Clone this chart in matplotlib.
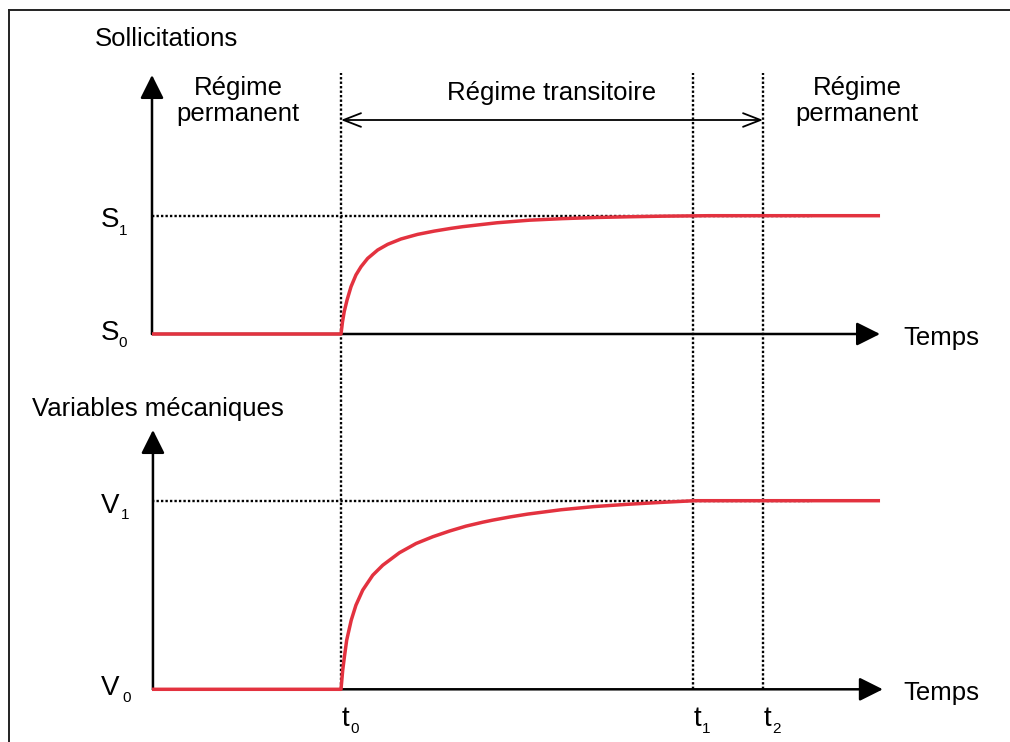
import matplotlib
matplotlib.use("Agg")
import matplotlib.pyplot as plt
from matplotlib.lines import Line2D

plt.rcParams["font.family"] = ["Liberation Sans", "DejaVu Sans"]

# ---------------- data (arbitrary time unit: t0 = 1) ----------------
t_marks = [1.0, 2.862, 3.233]          # t0, t1, t2
t_names = ["0", "1", "2"]
t_end = 3.852                          # end of the time axis

sollicitation_t = [0.0, 1.0, 1.008, 1.017, 1.032, 1.053, 1.079, 1.106, 1.141,
                   1.194, 1.247, 1.317, 1.405, 1.494, 1.582, 1.643, 1.824,
                   1.996, 2.170, 2.349, 2.525, 2.700, 2.949, 3.852]
sollicitation_v = [0.0, 0.0, 0.104, 0.189, 0.287, 0.400, 0.499, 0.569, 0.639,
                   0.710, 0.758, 0.803, 0.842, 0.870, 0.893, 0.907, 0.940,
                   0.962, 0.975, 0.985, 0.991, 0.996, 1.0, 1.0]

variable_t = [0.0, 1.0, 1.009, 1.018, 1.030, 1.054, 1.079, 1.115, 1.168, 1.221,
              1.309, 1.397, 1.486, 1.574, 1.661, 1.750, 1.803, 1.895, 1.988,
              2.164, 2.341, 2.517, 2.693, 2.870, 3.852]
variable_v = [0.0, 0.0, 0.101, 0.172, 0.260, 0.366, 0.446, 0.526, 0.605, 0.658,
              0.724, 0.773, 0.809, 0.839, 0.865, 0.886, 0.897, 0.914, 0.929,
              0.952, 0.969, 0.981, 0.991, 1.0, 1.0]

guide_end = 3.49
RED = "#e3323f"
FS = 18.5
FS_LETTER = 20
FS_SUB = 11

W, H = 1010, 742
fig = plt.figure(figsize=(W / 100, H / 100), dpi=100)
fig.patch.set_facecolor("white")

# frame (top and left edges)
fig.add_artist(Line2D([9 / W, 1], [1 - 10 / H, 1 - 10 / H], color="#222222", lw=1.4))
fig.add_artist(Line2D([9 / W, 9 / W], [0, 1 - 10 / H], color="#222222", lw=1.4))

xlim = (-152 / 189, (W - 152) / 189)
ax1 = fig.add_axes([0, 1 - 380 / H, 1, 380 / H])
ax1.set_xlim(*xlim)
ax1.set_ylim((334 - 380) / 118.3, 334 / 118.3)
ax2 = fig.add_axes([0, 0, 1, (H - 380) / H])
ax2.set_xlim(*xlim)
ax2.set_ylim((689.3 - H) / 188.6, (689.3 - 380) / 188.6)
for ax in (ax1, ax2):
    ax.axis("off")
    ax.patch.set_alpha(0)

dot = dict(color="black", lw=1.7, linestyle=(0, (1, 0.9)), clip_on=False)
ax_arrow = dict(arrowstyle="-|>,head_length=1.0,head_width=0.5", mutation_scale=14.4,
                lw=1.8, color="black", shrinkA=0, shrinkB=0)


def sub_label(ax, x, y, main, sub, dx, dy=-7, ha="left"):
    ax.annotate(main, xy=(x, y), xytext=(0, 0), textcoords="offset pixels",
                fontsize=FS_LETTER, ha=ha, va="baseline", annotation_clip=False)
    ax.annotate(sub, xy=(x, y), xytext=(dx, dy), textcoords="offset pixels",
                fontsize=FS_SUB, ha="left", va="baseline", annotation_clip=False)


# ---------------- top panel : Sollicitations ----------------
y_top1 = ax1.get_ylim()[0]
for t in t_marks:
    ax1.plot([t, t], [y_top1, (334 - 73) / 118.3], **dot)
ax1.plot([0, guide_end], [1, 1], **dot)
ax1.annotate("", xy=(0, (334 - 75) / 118.3), xytext=(0, 0), arrowprops=ax_arrow)
ax1.annotate("", xy=(t_end, 0), xytext=(0, 0), arrowprops=ax_arrow)
ax1.plot(sollicitation_t, sollicitation_v, color=RED, lw=2.5, zorder=5,
         solid_joinstyle="round", solid_capstyle="butt", clip_on=False)

ax1.annotate("", xy=(t_marks[0], (334 - 120) / 118.3), xytext=(t_marks[2], (334 - 120) / 118.3),
             arrowprops=dict(arrowstyle="<->,head_length=0.9,head_width=0.35", mutation_scale=14,
                             lw=1.3, color="black", shrinkA=0, shrinkB=0))
ax1.text((t_marks[0] + t_marks[2]) / 2, (334 - 100) / 118.3, "Régime transitoire",
         fontsize=FS, ha="center", va="baseline")
ax1.text((238 - 152) / 189, (334 - 101) / 118.3, "Régime\npermanent",
         fontsize=FS, ha="center", va="center", linespacing=1.12)
ax1.text((857 - 152) / 189, (334 - 101) / 118.3, "Régime\npermanent",
         fontsize=FS, ha="center", va="center", linespacing=1.12)
ax1.text((95 - 152) / 189, (334 - 45.7) / 118.3, "Sollicitations",
         fontsize=FS, ha="left", va="baseline")
ax1.text((903 - 152) / 189, (334 - 345) / 118.3, "Temps",
         fontsize=FS, ha="left", va="baseline")
sub_label(ax1, (101 - 152) / 189, (334 - 227) / 118.3, "S", "1", 18, -8)
sub_label(ax1, (101 - 152) / 189, (334 - 340) / 118.3, "S", "0", 17, -7)

# ---------------- bottom panel : Variables mécaniques ----------------
y_top2 = ax2.get_ylim()[1]
for t in t_marks:
    ax2.plot([t, t], [0, y_top2], **dot)
ax2.plot([0, guide_end], [1, 1], **dot)
ax2.annotate("", xy=(0.005, (689.3 - 430) / 188.6), xytext=(0.005, 0), arrowprops=ax_arrow)
ax2.annotate("", xy=(t_end + 0.015, 0), xytext=(0.005, 0), arrowprops=ax_arrow)
ax2.plot(variable_t, variable_v, color=RED, lw=2.5, zorder=5,
         solid_joinstyle="round", solid_capstyle="butt", clip_on=False)

ax2.text((32 - 152) / 189, (689.3 - 416) / 188.6, "Variables mécaniques",
         fontsize=FS, ha="left", va="baseline")
ax2.text((903 - 152) / 189, (689.3 - 700) / 188.6, "Temps",
         fontsize=FS, ha="left", va="baseline")
sub_label(ax2, (101 - 152) / 189, (689.3 - 513) / 188.6, "V", "1", 20, -6)
sub_label(ax2, (101 - 152) / 189, (689.3 - 695) / 188.6, "V", "0", 21, -7)

for t, n in zip(t_marks, t_names):
    ax2.annotate("t", xy=(t, (689.3 - 726) / 188.6), xytext=(1, 0), textcoords="offset pixels",
                 fontsize=FS_LETTER, ha="left", va="baseline", annotation_clip=False)
    ax2.annotate(n, xy=(t, (689.3 - 726) / 188.6), xytext=(9, -7), textcoords="offset pixels",
                 fontsize=FS_SUB, ha="left", va="baseline", annotation_clip=False)

fig.savefig("out.png", dpi=100, facecolor="white")
